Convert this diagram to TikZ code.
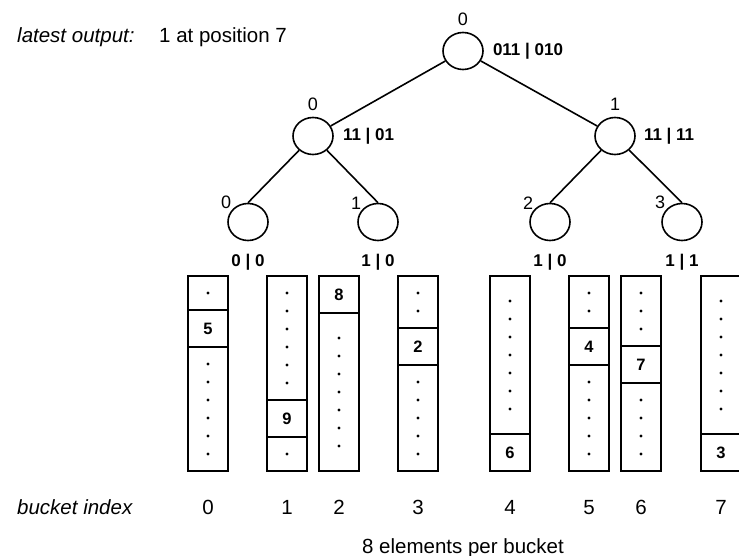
\documentclass[tikz,border=0pt]{standalone}
\usepackage{fontspec}
\setmainfont{Liberation Sans}
\usetikzlibrary{shapes.geometric,positioning}

\tikzset{
  knot/.style={draw, ellipse, line width=1.6pt, minimum width=40pt, minimum height=37pt, inner sep=0pt},
  edge/.style={line width=1.6pt},
  ordtag/.style={font=\fontsize{18}{21}\selectfont, inner sep=1pt},
  bits/.style={font=\fontsize{17}{20}\selectfont\bfseries, inner sep=0pt},
  caption/.style={font=\fontsize{20.5}{24}\selectfont, inner sep=0pt},
  box/.style={line width=1.8pt},
  entry/.style={font=\fontsize{16.5}{19}\selectfont\bfseries, inner sep=0pt},
}

\begin{document}
\begin{tikzpicture}[x=1pt, y=-1pt]
  \useasboundingbox (0,0) rectangle (739,556);

  % header
  \node[caption, anchor=base west] (latest) at (17,43) {\itshape latest output:};
  \node[caption, anchor=base west] (output) at (159,43) {1 at position 7};

  % tree
  \node[knot] (root) at (463,51) {};
  \node[knot] (n0) at (313,136) {};
  \node[knot] (n1) at (615,136) {};
  \node[knot] (n00) at (248,222) {};
  \node[knot] (n01) at (378,222) {};
  \node[knot] (n10) at (550,222) {};
  \node[knot] (n11) at (682,222) {};
  \draw[edge] (root) -- (n0);
  \draw[edge] (root) -- (n1);
  \draw[edge] (n0) -- (n00.north);
  \draw[edge] (n0) -- (n01.north);
  \draw[edge] (n1) -- (n10.north);
  \draw[edge] (n1) -- (n11.north);

  \node[ordtag, above=5pt of root] (troot) {0};
  \node[ordtag, above=5pt of n0] (tn0) {0};
  \node[ordtag, above=5pt of n1] (tn1) {1};
  \node[ordtag, above left=-2pt and 1pt of n00] (tn00) {0};
  \node[ordtag, above left=-2pt and 1pt of n01] (tn01) {1};
  \node[ordtag, above left=-2pt and 1pt of n10] (tn10) {2};
  \node[ordtag, above left=-2pt and 1pt of n11] (tn11) {3};

  \node[bits, right=9pt of root] (broot) {011 | 010};
  \node[bits, right=9pt of n0] (bn0) {11 | 01};
  \node[bits, right=8pt of n1] (bn1) {11 | 11};
  \node[bits, below=13pt of n00] (bn00) {0 | 0};
  \node[bits, below=13pt of n01] (bn01) {1 | 0};
  \node[bits, below=13pt of n10] (bn10) {1 | 0};
  \node[bits, below=13pt of n11] (bn11) {1 | 1};

  % buckets: left edge / slot of the value / value
  \foreach \bx/\bk/\bv [count=\bi from 0] in {188/1/5, 267/6/9, 319/0/8, 398/2/2, 490/7/6, 569/2/4, 621/3/7, 701/7/3}{
    \pgfmathsetmacro{\celltop}{\bk==0 ? 276 : (\bk==7 ? 434 : 292+18*\bk)}
    \pgfmathsetmacro{\cellbot}{\celltop+37}
    \pgfmathsetmacro{\midx}{\bx+20}
    \pgfmathtruncatemacro{\nbelow}{7-\bk}
    \draw[box] (\bx,276) rectangle ++(40,195);
    \draw[box] (\bx,\celltop) -- ++(40,0) (\bx,\cellbot) -- ++(40,0);
    \node[entry] (v\bi) at (\midx,{(\celltop+\cellbot)/2}) {\bv};
    \ifnum\bk>0
      \foreach \j in {1,...,\bk}
        \fill (\midx,{(276+\celltop)/2+18*(\j-(\bk+1)/2)}) circle (1.7pt);
    \fi
    \ifnum\nbelow>0
      \foreach \j in {1,...,\nbelow}
        \fill (\midx,{(\cellbot+471)/2+18*(\j-(\nbelow+1)/2)}) circle (1.7pt);
    \fi
    \node[caption, anchor=base] (i\bi) at (\midx,514) {\bi};
  }

  \node[caption, anchor=base west] (bidx) at (17,514) {\itshape bucket index};
  \node[caption, anchor=base] (per) at (463,553) {8 elements per bucket};
\end{tikzpicture}
\end{document}
